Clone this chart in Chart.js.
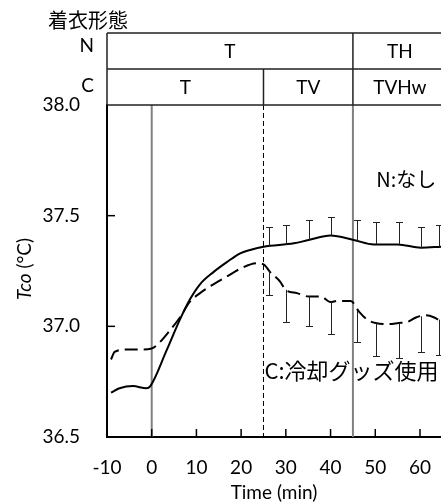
<!DOCTYPE html>
<html>
<head>
<meta charset="utf-8">
<script src="https://cdn.jsdelivr.net/npm/chart.js@4"></script>
<style>
  html, body { margin: 0; padding: 0; background: #fff; overflow: hidden; }
</style>
</head>
<body>
<canvas id="chart" width="441" height="504"></canvas>
<script>
// core temperature over time, N = no cooling goods (solid)
const nTime = [-9.1, -7.2, -4.2, -1.2, -0.3, 3.3, 6.3, 8.5, 10.8, 13.8, 16.8, 19.8, 22, 25, 31.8, 35.1, 40, 45.2, 49.7, 55, 60.2, 64.9];
const nTemp = [36.70, 36.72, 36.73, 36.72, 36.73, 36.89, 37.03, 37.12, 37.19, 37.245, 37.29, 37.33, 37.345, 37.36, 37.375, 37.39, 37.41, 37.39, 37.37, 37.37, 37.355, 37.36];

// C = with cooling goods (dashed)
const cTime = [-9.1, -8.3, -5.7, -2.7, 0, 1.4, 4, 6.3, 8.5, 10.8, 13.8, 16.8, 19.8, 23.5, 25, 26.5, 28.8, 29.9, 32.5, 35.1, 37.8, 40, 41.5, 44.5, 46.4, 48.2, 50.1, 52.7, 55.2, 57.2, 59.1, 61.3, 63.2, 64.9];
const cTemp = [36.85, 36.885, 36.895, 36.895, 36.90, 36.92, 36.98, 37.04, 37.11, 37.15, 37.19, 37.225, 37.26, 37.285, 37.28, 37.245, 37.20, 37.165, 37.15, 37.135, 37.135, 37.11, 37.115, 37.115, 37.065, 37.03, 37.015, 37.01, 37.015, 37.02, 37.04, 37.05, 37.04, 37.02];

// error bars: N goes up, C goes down
const errTime = [26.2, 30, 35.2, 40, 46, 50.1, 55.2, 60.2, 64.3];
const nBase = [37.36, 37.37, 37.39, 37.41, 37.385, 37.37, 37.37, 37.355, 37.36];
const nTop = [37.45, 37.46, 37.48, 37.495, 37.48, 37.47, 37.47, 37.45, 37.46];
const cBase = [37.25, 37.165, 37.135, 37.11, 37.07, 37.015, 37.015, 37.045, 37.03];
const cBottom = [37.14, 37.02, 37.00, 36.965, 36.93, 36.865, 36.855, 36.885, 36.87];

const xTicks = [-10, 0, 10, 20, 30, 40, 50, 60];
const yTicks = [36.5, 37.0, 37.5, 38.0];

// clothing table (着衣形態)
const nBounds = [-10, 45, 66];
const nLabels = ['T', 'TH'];
const cBounds = [-10, 25, 45, 66];
const cLabels = ['T', 'TV', 'TVHw'];
const markTimes = [0, 25, 45];

const latin = 'Lato, "Noto Sans", sans-serif';
const jp = '"Noto Sans CJK JP", "Noto Sans", sans-serif';
const tickFont = { family: latin, size: 19 };

const decor = {
  id: 'decor',
  beforeDatasetsDraw(chart) {
    const { ctx, chartArea: a, scales: { x } } = chart;
    ctx.save();
    markTimes.forEach(t => {
      const px = x.getPixelForValue(t);
      ctx.beginPath();
      if (nBounds.includes(t) || t === 0) {
        ctx.strokeStyle = '#808080';
        ctx.lineWidth = 2;
        ctx.setLineDash([]);
      } else {
        ctx.strokeStyle = '#000';
        ctx.lineWidth = 1;
        ctx.setLineDash([5, 3]);
      }
      ctx.moveTo(px, a.top);
      ctx.lineTo(px, a.bottom);
      ctx.stroke();
    });
    ctx.restore();
  },
  afterDatasetsDraw(chart) {
    const { ctx, chartArea: a, scales: { x, y } } = chart;
    ctx.save();
    ctx.beginPath();
    ctx.rect(a.left, a.top, a.right - a.left, a.bottom - a.top);
    ctx.clip();
    ctx.strokeStyle = '#222';
    ctx.lineWidth = 1;
    const cap = 3.5;
    const bar = (t, from, to) => {
      const px = Math.round(x.getPixelForValue(t)) + 0.5;
      const y0 = y.getPixelForValue(from);
      const y1 = Math.round(y.getPixelForValue(to)) + 0.5;
      ctx.beginPath();
      ctx.moveTo(px, y0);
      ctx.lineTo(px, y1);
      ctx.moveTo(px - cap, y1);
      ctx.lineTo(px + cap, y1);
      ctx.stroke();
    };
    errTime.forEach((t, i) => {
      bar(t, nBase[i], nTop[i]);
      bar(t, cBase[i], cBottom[i]);
    });
    ctx.restore();
  },
  afterDraw(chart) {
    const { ctx, chartArea: a, scales: { x, y } } = chart;
    ctx.save();

    // inward tick marks
    ctx.strokeStyle = '#000';
    ctx.lineWidth = 1.5;
    xTicks.slice(1).forEach(v => {
      const px = x.getPixelForValue(v);
      ctx.beginPath();
      ctx.moveTo(px, a.bottom);
      ctx.lineTo(px, a.bottom - 8);
      ctx.stroke();
    });
    yTicks.slice(1, -1).forEach(v => {
      const py = y.getPixelForValue(v);
      ctx.beginPath();
      ctx.moveTo(a.left, py);
      ctx.lineTo(a.left + 8, py);
      ctx.stroke();
    });

    // table above the plot
    const rowTop = 33, rowMid = 69, rowBot = a.top;
    ctx.strokeStyle = '#222';
    ctx.lineWidth = 1.5;
    ctx.beginPath();
    [rowTop, rowMid, rowBot].forEach(ry => {
      ctx.moveTo(a.left, ry);
      ctx.lineTo(a.right, ry);
    });
    ctx.moveTo(a.left, rowTop);
    ctx.lineTo(a.left, rowBot);
    nBounds.slice(1, -1).forEach(t => {
      const px = x.getPixelForValue(t);
      ctx.moveTo(px, rowTop);
      ctx.lineTo(px, rowMid);
    });
    cBounds.slice(1, -1).forEach(t => {
      const px = x.getPixelForValue(t);
      ctx.moveTo(px, rowMid);
      ctx.lineTo(px, rowBot);
    });
    ctx.stroke();

    ctx.fillStyle = '#000';
    ctx.font = '19px ' + latin;
    ctx.textAlign = 'center';
    ctx.textBaseline = 'middle';
    nLabels.forEach((s, i) => {
      const px = (x.getPixelForValue(nBounds[i]) + x.getPixelForValue(nBounds[i + 1])) / 2;
      ctx.fillText(s, px, (rowTop + rowMid) / 2 + 1);
    });
    cLabels.forEach((s, i) => {
      const px = (x.getPixelForValue(cBounds[i]) + x.getPixelForValue(cBounds[i + 1])) / 2;
      ctx.fillText(s, px, (rowMid + rowBot) / 2 + 1);
    });
    ctx.textAlign = 'right';
    ctx.fillText('N', 94, 46);
    ctx.fillText('C', 94, 86);

    ctx.font = '20px ' + jp;
    ctx.textAlign = 'left';
    ctx.fillText('着衣形態', 48, 20);

    // series labels
    ctx.font = '20px ' + jp;
    ctx.fillText('N:なし', x.getPixelForValue(50.2), y.getPixelForValue(37.665));
    ctx.font = '22px ' + jp;
    ctx.fillText('C:冷却グッズ使用', x.getPixelForValue(25.2), y.getPixelForValue(36.80));

    // y title, Tco in italics
    ctx.translate(25, 269);
    ctx.rotate(-Math.PI / 2);
    ctx.font = 'italic 19px ' + latin;
    const w1 = ctx.measureText('Tco').width;
    ctx.font = '19px ' + latin;
    const w2 = ctx.measureText(' (°C)').width;
    ctx.textAlign = 'left';
    ctx.font = 'italic 19px ' + latin;
    ctx.fillText('Tco', -(w1 + w2) / 2, 0);
    ctx.font = '19px ' + latin;
    ctx.fillText(' (°C)', -(w1 + w2) / 2 + w1, 0);
    ctx.restore();
  }
};

new Chart(document.getElementById('chart'), {
  type: 'scatter',
  data: {
    datasets: [
      {
        label: 'N',
        data: nTime.map((t, i) => ({ x: t, y: nTemp[i] })),
        showLine: true,
        borderColor: '#000',
        borderWidth: 2,
        pointRadius: 0,
        cubicInterpolationMode: 'monotone'
      },
      {
        label: 'C',
        data: cTime.map((t, i) => ({ x: t, y: cTemp[i] })),
        showLine: true,
        borderColor: '#000',
        borderWidth: 2,
        borderDash: [13, 6],
        pointRadius: 0,
        cubicInterpolationMode: 'monotone'
      }
    ]
  },
  options: {
    responsive: false,
    animation: false,
    layout: { padding: { top: 105, left: 0, right: 0, bottom: 0 } },
    plugins: { legend: { display: false }, tooltip: { enabled: false } },
    scales: {
      x: {
        type: 'linear',
        min: -10,
        max: 64.7,
        afterBuildTicks: s => { s.ticks = xTicks.map(v => ({ value: v })); },
        grid: { display: false, drawTicks: false },
        border: { color: '#000', width: 2 },
        ticks: { padding: 19, font: tickFont, color: '#000' },
        title: { display: true, text: 'Time (min)', font: tickFont, color: '#000', padding: 0 },
        afterFit: s => { s.height = 67; s.paddingLeft = 0; s.paddingRight = 0; }
      },
      y: {
        min: 36.5,
        max: 38.0,
        afterBuildTicks: s => { s.ticks = yTicks.map(v => ({ value: v })); },
        grid: { display: false, drawTicks: false },
        border: { color: '#000', width: 2 },
        ticks: { padding: 27, font: tickFont, color: '#000', callback: v => v.toFixed(1) },
        afterFit: s => { s.width = 107; s.paddingTop = 0; s.paddingBottom = 0; }
      }
    }
  },
  plugins: [decor]
});
</script>
</body>
</html>
